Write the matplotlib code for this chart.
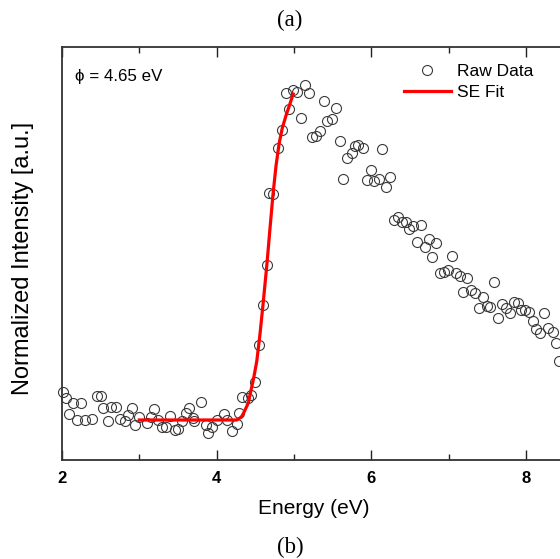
import matplotlib
matplotlib.use("Agg")
import matplotlib.pyplot as plt
from matplotlib.ticker import MultipleLocator

plt.rcParams['font.family'] = ['Liberation Sans', 'DejaVu Sans']

# Raw data: energy (eV) and intensity (a.u.)
raw_energy = [2.01, 2.05, 2.09, 2.14, 2.19, 2.25, 2.30, 2.39, 2.45, 2.50, 2.53, 2.60, 2.63, 2.70,
              2.75, 2.82, 2.85, 2.91, 2.94, 3.00, 3.10, 3.15, 3.19, 3.24, 3.29, 3.35, 3.40, 3.46,
              3.50, 3.55, 3.60, 3.64, 3.70, 3.71, 3.80, 3.86, 3.89, 3.94, 4.01, 4.10, 4.13, 4.20,
              4.26, 4.29, 4.33, 4.41, 4.44, 4.50, 4.55, 4.60, 4.65, 4.68, 4.73, 4.79, 4.85, 4.90,
              4.94, 4.99, 5.04, 5.09, 5.14, 5.20, 5.23, 5.29, 5.34, 5.39, 5.43, 5.49, 5.54, 5.60,
              5.64, 5.69, 5.75, 5.79, 5.83, 5.89, 5.95, 6.00, 6.04, 6.10, 6.14, 6.19, 6.24, 6.29,
              6.35, 6.40, 6.45, 6.49, 6.54, 6.59, 6.64, 6.70, 6.75, 6.79, 6.84, 6.89, 6.94, 6.99,
              7.05, 7.10, 7.15, 7.19, 7.24, 7.29, 7.34, 7.39, 7.45, 7.50, 7.54, 7.59, 7.64, 7.69,
              7.74, 7.80, 7.85, 7.90, 7.94, 7.99, 8.04, 8.09, 8.13, 8.18, 8.24, 8.29, 8.35, 8.39,
              8.43]
raw_intensity = [0.68, 0.62, 0.46, 0.57, 0.40, 0.57, 0.40, 0.41, 0.64, 0.64, 0.52, 0.39, 0.53, 0.53,
                 0.41, 0.39, 0.45, 0.52, 0.35, 0.43, 0.37, 0.43, 0.51, 0.40, 0.33, 0.33, 0.44, 0.30,
                 0.31, 0.39, 0.47, 0.52, 0.42, 0.39, 0.58, 0.35, 0.27, 0.33, 0.40, 0.46, 0.40, 0.29,
                 0.36, 0.47, 0.63, 0.62, 0.65, 0.78, 1.15, 1.55, 1.95, 2.67, 2.66, 3.12, 3.30, 3.67,
                 3.51, 3.70, 3.68, 3.42, 3.75, 3.67, 3.23, 3.24, 3.29, 3.59, 3.39, 3.41, 3.52, 3.19,
                 2.81, 3.02, 3.07, 3.14, 3.15, 3.12, 2.80, 2.90, 2.79, 2.81, 3.11, 2.73, 2.83, 2.40,
                 2.43, 2.38, 2.38, 2.31, 2.34, 2.18, 2.35, 2.13, 2.21, 2.03, 2.17, 1.87, 1.88, 1.90,
                 2.04, 1.87, 1.84, 1.68, 1.82, 1.70, 1.67, 1.52, 1.63, 1.54, 1.53, 1.78, 1.42, 1.56,
                 1.52, 1.47, 1.58, 1.57, 1.50, 1.50, 1.48, 1.39, 1.31, 1.27, 1.47, 1.32, 1.28, 1.17,
                 0.99]

# SE fit curve
fit_energy = [3.00, 4.26, 4.32, 4.35, 4.41, 4.44, 4.48, 4.52, 4.56, 4.60, 4.65, 4.69, 4.73,
              4.77, 4.81, 4.85, 4.90, 4.94, 4.99]
fit_intensity = [0.40, 0.40, 0.43, 0.47, 0.57, 0.68, 0.82, 0.99, 1.25, 1.55, 1.95, 2.31, 2.66,
                 2.95, 3.17, 3.32, 3.45, 3.54, 3.66]

x_ticks = [2, 4, 6, 8]
x_tick_labels = ['2', '4', '6', '8']

W, H = 560, 559
fig = plt.figure(figsize=(W / 100, H / 100), dpi=100)
ax = fig.add_axes([62 / W, (H - 460) / H, 7 * 77.3 / W, 413 / H])

ax.plot(raw_energy, raw_intensity, linestyle='none', marker='o', markersize=7.2,
        markerfacecolor='none', markeredgecolor='#3a3a3a', markeredgewidth=0.8,
        label='Raw Data', clip_on=False)
ax.plot(fit_energy, fit_intensity, color='#ff0000', linewidth=2.3, label='SE Fit')

ax.set_xlim(2, 9)
ax.set_ylim(0, 4.13)
ax.set_xticks(x_ticks)
ax.set_xticklabels(x_tick_labels, fontweight='bold', fontsize=12)
ax.xaxis.set_minor_locator(MultipleLocator(1))
ax.set_yticks([])
ax.tick_params(axis='x', which='major', direction='in', length=7, width=1.0, top=True,
               pad=8, colors='#222222', labelcolor='black')
ax.tick_params(axis='x', which='minor', direction='in', length=4, width=1.0, top=True,
               colors='#222222')
for s in ax.spines.values():
    s.set_linewidth(1.3)
    s.set_color('#333333')

fig.text(314 / W, 1 - 508 / H, 'Energy (eV)', fontsize=15, ha='center', va='center')
fig.text(23 / W, 1 - 258 / H, 'Normalized Intensity [a.u.]', fontsize=17, rotation=90,
         ha='center', va='center')

ax.text(75 / W, 1 - 76 / H, 'ϕ = 4.65 eV', transform=fig.transFigure, fontsize=12.2,
        va='center', ha='left')

leg = ax.legend(loc='upper left', bbox_to_anchor=(404 / W, 1 - 64 / H),
                bbox_transform=fig.transFigure, frameon=False, fontsize=12.5,
                handlelength=2.7, handletextpad=0.35, labelspacing=0.35,
                borderpad=0, borderaxespad=0)

fig.text(290 / W, 1 - 20 / H, '(a)', family='Liberation Serif', fontsize=16.5, ha='center', va='center')
fig.text(290 / W, 1 - 547 / H, '(b)', family='Liberation Serif', fontsize=16.5, ha='center', va='center')

fig.savefig('out.png', dpi=100)
